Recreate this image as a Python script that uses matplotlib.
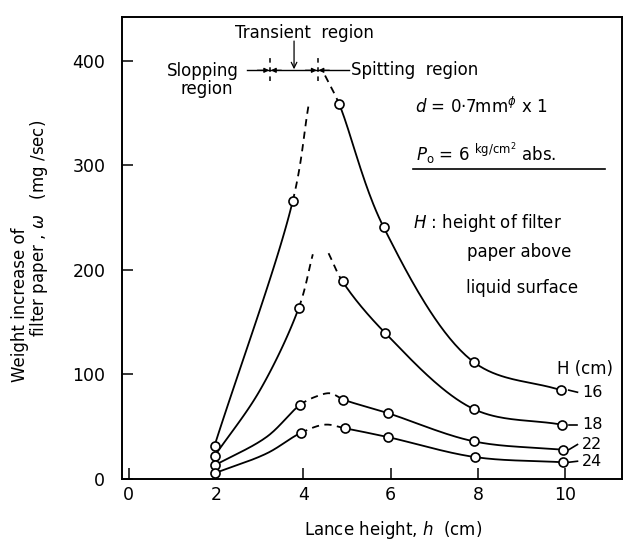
import numpy as np
import matplotlib
matplotlib.use('Agg')
import matplotlib.pyplot as plt

plt.rcParams['font.family'] = ['DejaVu Sans']

# circles (lance height h, weight increase w)
h16_x = [1.97, 3.76, 4.82, 5.84, 7.9, 9.9]
h16_y = [32, 266, 359, 241, 112, 85]
h18_x = [1.97, 3.9, 4.9, 5.87, 7.9, 9.92]
h18_y = [22, 164, 189, 140, 67, 52]
h22_x = [1.97, 3.93, 4.92, 5.94, 7.91, 9.95]
h22_y = [13, 71, 76, 63, 36, 28]
h24_x = [1.97, 3.94, 4.96, 5.95, 7.93, 9.95]
h24_y = [5.5, 44, 48.5, 40, 21, 16]

# hand drawn curves
c16_left_x = [1.97, 3.76, 4.12]
c16_left_y = [32, 266, 357]
c16_right_x = [4.5, 4.82, 5.84, 7.9, 9.9]
c16_right_y = [386, 359, 241, 112, 85]
c18_left_x = [1.97, 3.01, 3.9, 4.22]
c18_left_y = [22, 85, 164, 215]
c18_right_x = [4.58, 4.9, 5.87, 7.9, 9.92]
c18_right_y = [216, 189, 140, 67, 52]
c22_x = [1.97, 3.17, 3.93, 4.3, 4.62, 4.92, 5.94, 7.91, 9.95]
c22_y = [13, 40.5, 71, 79, 82, 76, 63, 36, 28]
c24_x = [1.97, 3.17, 3.94, 4.5, 4.96, 5.95, 7.93, 9.95]
c24_y = [5.5, 24.6, 44, 52, 48.5, 40, 21, 16]

# which part of each curve is dashed (h range)
dash16_left = (3.76, 4.2)
dash16_right = (4.4, 4.82)
dash18_left = (3.9, 4.3)
dash18_right = (4.5, 4.9)
dash22 = (3.93, 4.92)
dash24 = (3.94, 4.96)

H_labels = ['16', '18', '22', '24']
H_label_y = [83, 52, 33, 17]

xticks = [0, 2, 4, 6, 8, 10]
yticks = [0, 100, 200, 300, 400]

# pixels per data unit, only used to make the spline look even on screen
SX, SY = 43.7, 1.045


def smooth(xs, ys, n=40):
    # centripetal catmull-rom through the traced points
    p = np.column_stack([np.array(xs) * SX, np.array(ys) * SY]).astype(float)
    pts = np.vstack([2 * p[0] - p[1], p, 2 * p[-1] - p[-2]])
    out = []
    for i in range(len(p) - 1):
        P0, P1, P2, P3 = pts[i:i + 4]
        t0 = 0.0
        t1 = t0 + np.linalg.norm(P1 - P0) ** 0.5
        t2 = t1 + np.linalg.norm(P2 - P1) ** 0.5
        t3 = t2 + np.linalg.norm(P3 - P2) ** 0.5
        tt = np.linspace(t1, t2, n)[:, None]
        A1 = (t1 - tt) / (t1 - t0) * P0 + (tt - t0) / (t1 - t0) * P1
        A2 = (t2 - tt) / (t2 - t1) * P1 + (tt - t1) / (t2 - t1) * P2
        A3 = (t3 - tt) / (t3 - t2) * P2 + (tt - t2) / (t3 - t2) * P3
        B1 = (t2 - tt) / (t2 - t0) * A1 + (tt - t0) / (t2 - t0) * A2
        B2 = (t3 - tt) / (t3 - t1) * A2 + (tt - t1) / (t3 - t1) * A3
        C = (t2 - tt) / (t2 - t1) * B1 + (tt - t1) / (t2 - t1) * B2
        out.append(C)
    s = np.vstack(out)
    return s[:, 0] / SX, s[:, 1] / SY


def draw_curve(ax, xs, ys, dash):
    x, y = smooth(xs, ys)
    inside = (x >= dash[0] - 1e-6) & (x <= dash[1] + 1e-6)
    edge = np.isclose(x, dash[0]) | np.isclose(x, dash[1])
    ax.plot(x, np.where(inside & ~edge, np.nan, y), color='black', lw=1.3, zorder=2)
    ax.plot(x, np.where(inside, y, np.nan), color='black', lw=1.3,
            ls=(0, (4, 3)), zorder=2)


fig = plt.figure(figsize=(6.23, 5.41), dpi=100)
ax = fig.add_axes([122 / 623, 62 / 541, 500 / 623, 462 / 541])
ax.set_xlim(-0.15, 11.3)
ax.set_ylim(0, 442)

draw_curve(ax, c16_left_x, c16_left_y, dash16_left)
draw_curve(ax, c16_right_x, c16_right_y, dash16_right)
draw_curve(ax, c18_left_x, c18_left_y, dash18_left)
draw_curve(ax, c18_right_x, c18_right_y, dash18_right)
draw_curve(ax, c22_x, c22_y, dash22)
draw_curve(ax, c24_x, c24_y, dash24)

for xs, ys in [(h16_x, h16_y), (h18_x, h18_y), (h22_x, h22_y), (h24_x, h24_y)]:
    ax.plot(xs, ys, 'o', ms=6.5, mfc='white', mec='black', mew=1.2, zorder=3)

# H labels at the right end
ends_y = [h16_y[-1], h18_y[-1], h22_y[-1], h24_y[-1]]
for lab, ly, ey in zip(H_labels, H_label_y, ends_y):
    ax.plot([10.08, 10.28], [ey, ly], color='black', lw=1.2, clip_on=False)
    ax.text(10.38, ly, lab, fontsize=11.5, va='center', ha='left')
ax.text(10.45, 105, 'H (cm)', fontsize=12, va='center', ha='center')

# region annotations
ax.plot([3.24, 3.24], [381, 407], color='black', lw=1.1, ls=(0, (3, 3)))
ax.plot([4.33, 4.33], [381, 407], color='black', lw=1.1, ls=(0, (3, 3)))
ax.plot([2.72, 5.05], [391, 391], color='black', lw=1.0)
arrow = dict(arrowstyle='-|>', lw=0.9, color='black', mutation_scale=7, shrinkA=0, shrinkB=0)
ax.annotate('', xy=(3.22, 391), xytext=(2.95, 391), arrowprops=arrow)
ax.annotate('', xy=(3.26, 391), xytext=(3.5, 391), arrowprops=arrow)
ax.annotate('', xy=(4.31, 391), xytext=(4.05, 391), arrowprops=arrow)
ax.annotate('', xy=(4.35, 391), xytext=(4.6, 391), arrowprops=arrow)
ax.annotate('', xy=(3.79, 392), xytext=(3.79, 419),
            arrowprops=dict(arrowstyle='->', lw=0.9, color='black', shrinkA=0, shrinkB=0))
ax.text(4.02, 427, 'Transient  region', fontsize=12, ha='center', va='center')
ax.text(1.7, 390, 'Slopping', fontsize=12, ha='center', va='center')
ax.text(1.8, 373, 'region', fontsize=12, ha='center', va='center')
ax.text(5.1, 391, 'Spitting  region', fontsize=12, ha='left', va='center')

ax.text(6.55, 356, r'$d$ = 0·7mm$^{\phi}$ x 1', fontsize=12, ha='left', va='center')
ax.text(6.58, 311, r'$P_{\rm o}$ = 6 $^{\rm kg/cm^2}$ abs.', fontsize=12, ha='left', va='center')
ax.plot([6.52, 10.9], [297, 297], color='black', lw=1.2)
ax.text(6.52, 245, r'$H$ : height of filter', fontsize=12, ha='left', va='center')
ax.text(8.95, 217, 'paper above', fontsize=12, ha='center', va='center')
ax.text(9.0, 183, 'liquid surface', fontsize=12, ha='center', va='center')

ax.set_xticks(xticks)
ax.set_yticks(yticks)
ax.tick_params(axis='x', direction='in', length=8, width=1.1, pad=5, labelsize=12.5)
ax.tick_params(axis='y', direction='in', length=8, width=1.1, pad=12, labelsize=12.5)
for sp in ax.spines.values():
    sp.set_linewidth(1.4)

ax.text(6.05, -49, r'Lance height, $h$  (cm)', fontsize=12, ha='center', va='center',
        clip_on=False)
fig.text(20 / 623, 1 - 305 / 541, 'Weight increase of', rotation=90, fontsize=12,
         ha='center', va='center')
fig.text(39 / 623, 1 - 228 / 541, r'filter paper , $\omega$   (mg /sec)', rotation=90,
         fontsize=12, ha='center', va='center')

fig.savefig('out.png', dpi=100)
